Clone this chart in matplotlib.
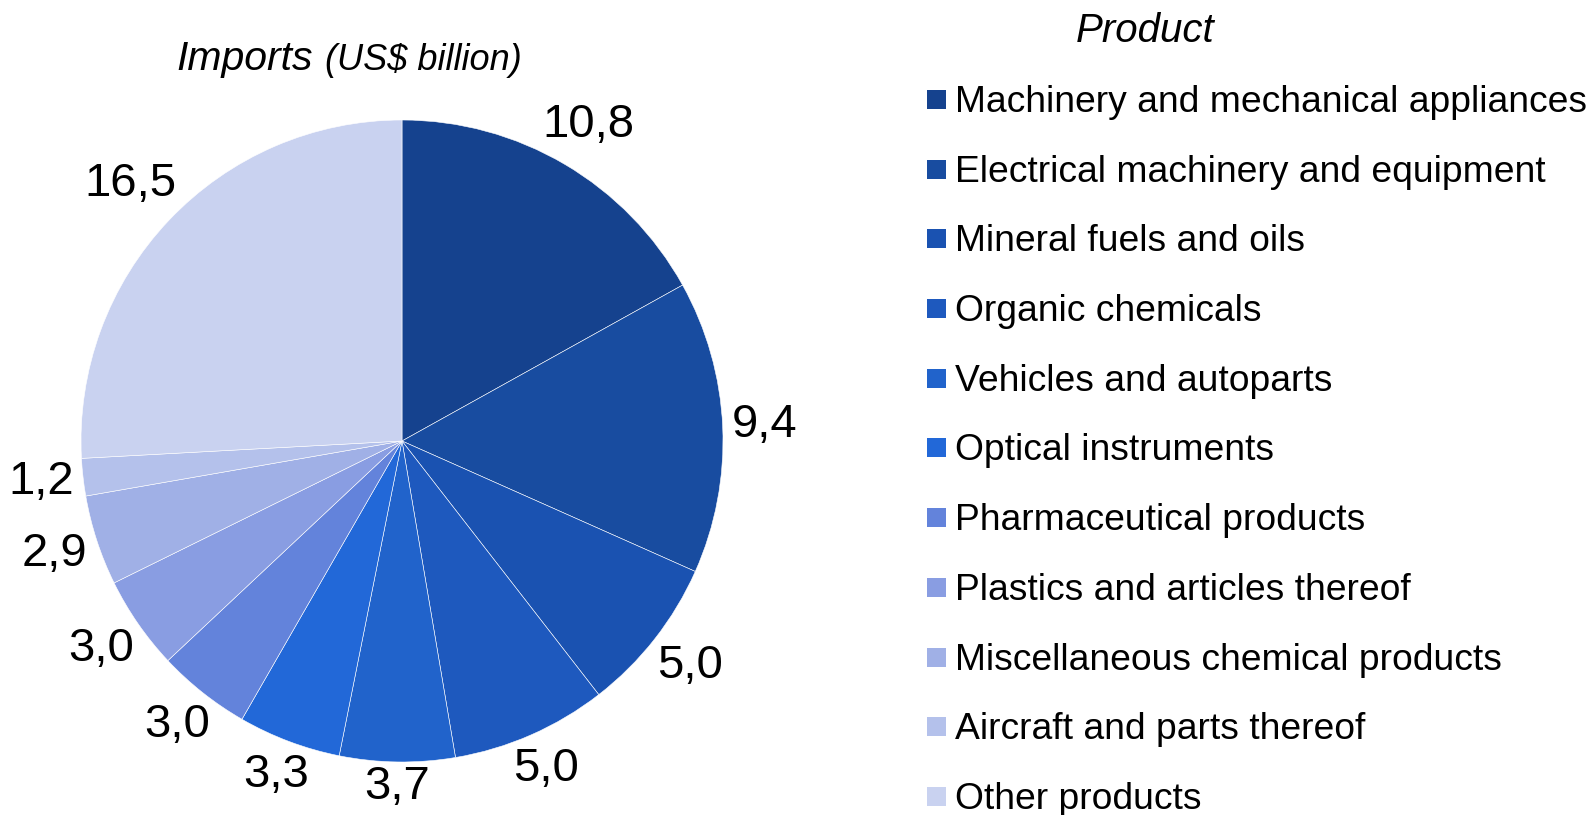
import numpy as np
import matplotlib.pyplot as plt
from matplotlib.patches import Rectangle

# Dados: importações por produto (US$ bilhões)
products = [
    "Machinery and mechanical appliances",
    "Electrical machinery and equipment",
    "Mineral fuels and oils",
    "Organic chemicals",
    "Vehicles and autoparts",
    "Optical instruments",
    "Pharmaceutical products",
    "Plastics and articles thereof",
    "Miscellaneous chemical products",
    "Aircraft and parts thereof",
    "Other products",
]
values = [10.8, 9.4, 5.0, 5.0, 3.7, 3.3, 3.0, 3.0, 2.9, 1.2, 16.5]
colors = ["#15428E", "#184CA0", "#1A52B1", "#1E59BE", "#2163CB", "#2268D8",
          "#6383DB", "#899DE2", "#A0B0E6", "#B4C1EB", "#C9D2F0"]

plt.rcParams['font.family'] = ['Liberation Sans', 'DejaVu Sans']

W, H = 1591, 815
fig = plt.figure(figsize=(W / 100, H / 100), dpi=100)

# pizza: centro (402, 441) px, raio 321 px
cx, cy, r = 402, H - 441, 321
ax = fig.add_axes([(cx - r) / W, (cy - r) / H, 2 * r / W, 2 * r / H])

total = sum(values)
wedges, _, autotexts = ax.pie(
    values, colors=colors, startangle=90, counterclock=False,
    autopct=lambda p: f"{p * total / 100:.1f}".replace('.', ','),
    pctdistance=1.13,
    wedgeprops=dict(edgecolor='white', linewidth=0.4),
    textprops=dict(fontsize=34, color='black'))
ax.set_xlim(-1, 1)
ax.set_ylim(-1, 1)

# rótulos logo fora da borda (estilo "extremidade externa")
renderer = fig.canvas.get_renderer()
for w, t in zip(wedges, autotexts):
    phi = np.deg2rad((w.theta1 + w.theta2) / 2)
    bb = t.get_window_extent(renderer)
    hx, hy = bb.width / 2, 17
    d = r + 8 + hx * abs(np.cos(phi)) + hy * abs(np.sin(phi))
    t.set_position((d / r * np.cos(phi), d / r * np.sin(phi)))
    t.set_ha('center')
    t.set_va('center')

# título da pizza
fig.text(176 / W, 1 - 70 / H, "Imports", fontsize=29.5, style='italic',
         va='baseline', ha='left')
fig.text(325 / W, 1 - 70 / H, "(US$ billion)", fontsize=26, style='italic',
         va='baseline', ha='left')

# legenda manual
fig.text(1145 / W, 1 - 42 / H, "Product", fontsize=29, style='italic',
         va='baseline', ha='center')
step = 69.7
for i, (name, c) in enumerate(zip(products, colors)):
    yc = 99.4 + i * step
    fig.patches.append(Rectangle((927 / W, 1 - (yc + 9.5) / H), 19 / W, 19 / H,
                                 transform=fig.transFigure, facecolor=c,
                                 edgecolor='none'))
    fig.text(955 / W, 1 - (yc + 12.5) / H, name, fontsize=26.8,
             va='baseline', ha='left')

fig.savefig('out.png', dpi=100)
